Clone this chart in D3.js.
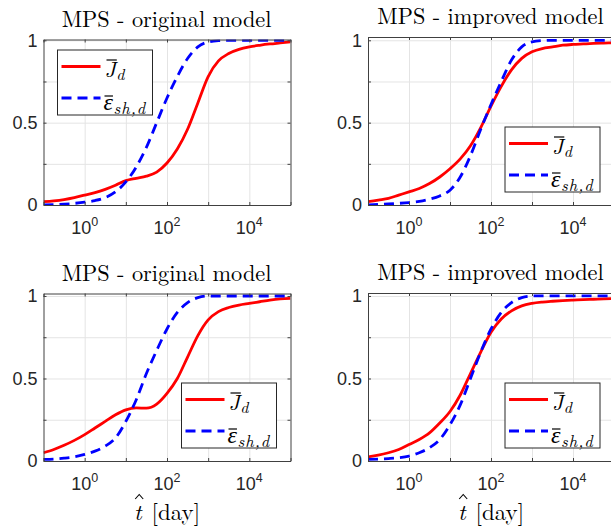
<!DOCTYPE html>
<html><head><meta charset="utf-8">
<script src="https://cdn.jsdelivr.net/npm/d3@7"></script>
<style>body{margin:0;background:#fff;} svg{display:block;}</style>
</head><body><svg id="c" width="611" height="526"></svg>
<script>
// time samples (days), quarter-decade spacing
const tDays = [0.1, 0.178, 0.316, 0.562, 1, 1.78, 3.16, 5.62, 10, 17.8, 31.6, 56.2, 100, 178, 316, 562, 1000, 1780, 3160, 5620, 10000, 17800, 31600, 56200, 100000];

// top row
const jdOrigTop  = [0.02, 0.025, 0.033, 0.045, 0.06, 0.075, 0.095, 0.12, 0.148, 0.162, 0.175, 0.2, 0.255, 0.34, 0.46, 0.62, 0.78, 0.875, 0.92, 0.945, 0.96, 0.97, 0.978, 0.984, 0.99];
const epsOrigTop = [0.0, 0.002, 0.005, 0.01, 0.017, 0.027, 0.045, 0.08, 0.14, 0.23, 0.35, 0.5, 0.65, 0.78, 0.89, 0.96, 0.99, 0.998, 1.0, 1.0, 1.0, 1.0, 1.0, 1.0, 1.0];
const jdImpTop   = [0.02, 0.03, 0.04, 0.06, 0.08, 0.1, 0.13, 0.17, 0.22, 0.28, 0.36, 0.47, 0.6, 0.72, 0.82, 0.89, 0.93, 0.95, 0.96, 0.97, 0.975, 0.978, 0.981, 0.983, 0.985];
const epsImpTop  = [0.0, 0.003, 0.006, 0.01, 0.015, 0.022, 0.035, 0.055, 0.09, 0.17, 0.3, 0.46, 0.61, 0.75, 0.88, 0.96, 0.99, 0.998, 1.0, 1.0, 1.0, 1.0, 1.0, 1.0, 1.0];
// bottom row
const jdOrigBot  = [0.05, 0.07, 0.095, 0.125, 0.16, 0.2, 0.24, 0.28, 0.31, 0.322, 0.32, 0.345, 0.41, 0.5, 0.63, 0.76, 0.855, 0.905, 0.93, 0.945, 0.955, 0.965, 0.975, 0.982, 0.985];
const epsOrigBot = [0.01, 0.012, 0.017, 0.025, 0.04, 0.06, 0.09, 0.14, 0.24, 0.37, 0.53, 0.67, 0.8, 0.9, 0.96, 0.99, 1.0, 1.0, 1.0, 1.0, 1.0, 1.0, 1.0, 1.0, 1.0];
const jdImpBot   = [0.025, 0.035, 0.05, 0.07, 0.1, 0.13, 0.17, 0.23, 0.3, 0.4, 0.53, 0.66, 0.78, 0.86, 0.91, 0.94, 0.955, 0.963, 0.968, 0.972, 0.975, 0.978, 0.98, 0.983, 0.985];
const epsImpBot  = [0.01, 0.012, 0.015, 0.02, 0.03, 0.05, 0.08, 0.13, 0.22, 0.34, 0.5, 0.66, 0.8, 0.9, 0.96, 0.99, 1.0, 1.0, 1.0, 1.0, 1.0, 1.0, 1.0, 1.0, 1.0];

const titles = ["MPS - original model", "MPS - improved model", "MPS - original model", "MPS - improved model"];
const xTickVals = [0.1, 1, 10, 100, 1000, 10000, 100000];
const xLabelVals = [1, 100, 10000];
const xLabelExps = ["0", "2", "4"];
const yTickVals = [0, 0.25, 0.5, 0.75, 1];
const yLabelVals = [0, 0.5, 1];
const yLabelText = ["0", "0.5", "1"];
const xAxisLabel = "[day]";

const panels = [
  {x0: 43.5, x1: 290.5, y0: 39.5, y1: 205, ymax: 1.005, J: jdOrigTop, E: epsOrigTop, leg: [57.5, 50], xl: false},
  {x0: 368, x1: 614, y0: 37, y1: 205, ymax: 1.02, J: jdImpTop, E: epsImpTop, leg: [505, 127], xl: false},
  {x0: 43.5, x1: 290.5, y0: 293.5, y1: 461, ymax: 1.015, J: jdOrigBot, E: epsOrigBot, leg: [181.5, 383], xl: true},
  {x0: 368, x1: 614, y0: 293, y1: 461, ymax: 1.018, J: jdImpBot, E: epsImpBot, leg: [505, 383], xl: true}
];

const SANS = '"Liberation Sans"';
const LM = '"Latin Modern Roman"';
const axisCol = "#404040";
const textCol = "#262626";

const svg = d3.select("#c");
svg.append("rect").attr("width", 611).attr("height", 526).attr("fill", "#fff");
const defs = svg.append("defs");

panels.forEach((p, i) => {
  const x = d3.scaleLog().domain([0.1, 1e5]).range([p.x0, p.x1]);
  const y = d3.scaleLinear().domain([0, p.ymax]).range([p.y1, p.y0]);
  const w = p.x1 - p.x0, h = p.y1 - p.y0;
  const g = svg.append("g");

  // grid
  const gx = g.append("g").attr("transform", `translate(0,${p.y1})`)
    .call(d3.axisBottom(x).tickValues(xTickVals.slice(1, -1)).tickSize(-h).tickFormat(""));
  gx.select(".domain").remove();
  gx.selectAll("line").attr("stroke", "#e4e4e4").attr("stroke-width", 1);
  const gy = g.append("g").attr("transform", `translate(${p.x0},0)`)
    .call(d3.axisLeft(y).tickValues(yTickVals.slice(1)).tickSize(-w).tickFormat(""));
  gy.select(".domain").remove();
  gy.selectAll("line").attr("stroke", "#e4e4e4").attr("stroke-width", 1);

  // clip
  const cid = "clip" + i;
  defs.append("clipPath").attr("id", cid).append("rect")
    .attr("x", p.x0).attr("y", p.y0).attr("width", w).attr("height", h);

  const line = d3.line().x((d, j) => x(tDays[j])).y(d => y(d)).curve(d3.curveMonotoneX);
  const lines = g.append("g").attr("clip-path", `url(#${cid})`);
  lines.append("path").datum(p.J).attr("d", line).attr("fill", "none")
    .attr("stroke", "#ff0000").attr("stroke-width", 2.8);
  lines.append("path").datum(p.E).attr("d", line).attr("fill", "none")
    .attr("stroke", "#0000ff").attr("stroke-width", 2.8).attr("stroke-dasharray", "10,6");

  // axes (box with inward ticks)
  const axes = [
    [d3.axisBottom(x).tickValues(xTickVals), `translate(0,${p.y1})`],
    [d3.axisTop(x).tickValues(xTickVals), `translate(0,${p.y0})`],
    [d3.axisLeft(y).tickValues(yTickVals), `translate(${p.x0},0)`],
    [d3.axisRight(y).tickValues(yTickVals), `translate(${p.x1},0)`]
  ];
  axes.forEach(([ax, tr]) => {
    const a = g.append("g").attr("transform", tr)
      .call(ax.tickSizeInner(-3).tickSizeOuter(0).tickFormat(""));
    a.select(".domain").attr("stroke", axisCol).attr("stroke-width", 1);
    a.selectAll(".tick line").attr("stroke", axisCol);
    a.selectAll("text").remove();
  });

  // x tick labels
  xLabelVals.forEach((v, k) => {
    const t = g.append("text").style("font-family", SANS).attr("x", x(v)).attr("y", p.y1 + 29)
      .attr("text-anchor", "middle").attr("font-size", 18).attr("fill", textCol);
    t.append("tspan").text("10");
    t.append("tspan").attr("font-size", 12.5).attr("dy", -8).text(xLabelExps[k]);
  });
  // y tick labels
  yLabelVals.forEach((v, k) => {
    g.append("text").style("font-family", SANS).attr("x", p.x0 - 6).attr("y", y(v) + 6.3)
      .attr("text-anchor", "end").attr("font-size", 18).attr("fill", textCol)
      .text(yLabelText[k]);
  });

  // title
  g.append("text").style("font-family", LM).attr("x", (p.x0 + p.x1) / 2 - 0.5).attr("y", p.y0 - 13)
    .attr("text-anchor", "middle").attr("font-size", 22.3).attr("fill", "#000")
    .text(titles[i]);

  // x axis label: italic t with hat, then [day]
  if (p.xl) {
    const cx = (p.x0 + p.x1) / 2;
    const lg = g.append("g");
    const tt = lg.append("text").style("font-family", LM).attr("x", 0).attr("y", 520)
      .attr("font-size", 23).attr("fill", "#000").attr("font-style", "italic").text("t");
    const tw = tt.node().getComputedTextLength();
    const rest = lg.append("text").style("font-family", LM).attr("x", tw + 10).attr("y", 520)
      .attr("font-size", 23).attr("fill", "#000").text(xAxisLabel);
    const hc = tw / 2 + 1.5;
    lg.append("path").attr("d", `M${hc - 4},${499} L${hc},${494.5} L${hc + 4},${499}`)
      .attr("fill", "none").attr("stroke", "#000").attr("stroke-width", 1.1);
    const fullW = tw + 10 + rest.node().getComputedTextLength();
    lg.attr("transform", `translate(${cx - fullW / 2},0)`);
  }

  // legend
  const [lx, ly] = p.leg;
  const lgd = g.append("g");
  lgd.append("rect").attr("x", lx).attr("y", ly).attr("width", 95).attr("height", 65)
    .attr("fill", "#fff").attr("stroke", textCol).attr("stroke-width", 1);
  lgd.append("line").attr("x1", lx + 4).attr("x2", lx + 43).attr("y1", ly + 16.5).attr("y2", ly + 16.5)
    .attr("stroke", "#ff0000").attr("stroke-width", 2.8);
  lgd.append("line").attr("x1", lx + 4).attr("x2", lx + 43).attr("y1", ly + 48).attr("y2", ly + 48)
    .attr("stroke", "#0000ff").attr("stroke-width", 2.8).attr("stroke-dasharray", "10,6");

  function sym(sx, base, ch, fs, over, ox, sub, subFs, subBase, ls) {
    const s = lgd.append("text").style("font-family", LM).attr("x", sx).attr("y", base)
      .attr("font-style", "italic").attr("font-size", fs).attr("fill", "#000").text(ch);
    const adv = s.node().getComputedTextLength();
    lgd.append("line").attr("x1", sx + ox).attr("x2", sx + adv + ox - 1).attr("y1", over).attr("y2", over)
      .attr("stroke", "#000").attr("stroke-width", 1.2);
    lgd.append("text").style("font-family", LM).attr("x", sx + adv + 0.5).attr("y", subBase)
      .attr("font-style", "italic").attr("font-size", subFs).attr("letter-spacing", ls).attr("fill", "#000").text(sub);
  }
  sym(lx + 47, ly + 26.5, "J", 21.5, ly + 10, 2, "d", 16, ly + 30, 0);
  sym(lx + 46, ly + 60, "\u03B5", 24, ly + 46, 1, "sh,d", 16.5, ly + 63.5, 1);
});
</script></body></html>
